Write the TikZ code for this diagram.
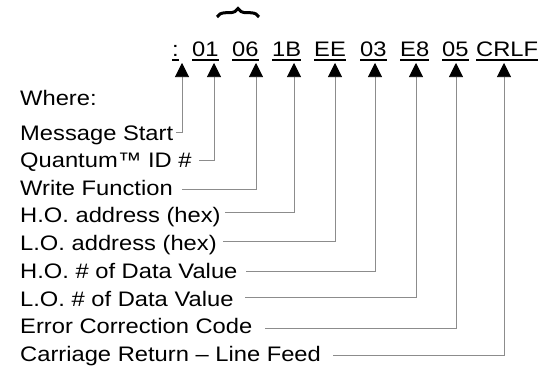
\documentclass[tikz,border=0pt]{standalone}
\usepackage{fontspec}
\setmainfont{Liberation Sans}[FakeStretch=1.13]
\usetikzlibrary{arrows.meta,decorations.pathreplacing}
\tikzset{
  lab/.style={anchor=base west, inner sep=0pt, font=\fontsize{21}{25}\selectfont},
  tok/.style={anchor=base west, inner sep=0pt, font=\fontsize{21}{25}\selectfont},
  uline/.style={line width=1.2pt},
  conn/.style={draw=black!45, line width=0.6pt,
    -{Triangle[width=14pt,length=14pt,color=black,fill=black]}},
  bracestyle/.style={decorate, decoration={brace, amplitude=8.5pt}, line width=3pt}
}
\begin{document}
\begin{tikzpicture}[x=1pt,y=-1pt]
\useasboundingbox (0,0) rectangle (538,369);
% tokens
\node[tok] (k1) at (172,56.7) {:};
\node[tok] (k2) at (192,56.7) {01};
\node[tok] (k3) at (232,56.7) {06};
\node[tok] (k4) at (272,56.7) {1B};
\node[tok] (k5) at (314,56.7) {EE};
\node[tok] (k6) at (360,56.7) {03};
\node[tok] (k7) at (400,56.7) {E8};
\node[tok] (k8) at (442,56.7) {05};
\node[tok] (k9) at (476,56.7) {CRLF};
\foreach \k in {1,...,9}{
  \draw[uline] ([yshift=-3.3pt]k\k.base west) -- ([yshift=-3.3pt]k\k.base east);
}
% brace
\coordinate (b1) at (217,17);
\coordinate (b2) at (259,17);
\draw[bracestyle] (b1) -- (b2);
% labels
\node[lab] (w)  at (20,105.7) {Where:};
\node[lab] (l1) at (20,140.5) {Message Start};
\node[lab] (l2) at (20,167) {Quantum™ ID \#};
\node[lab] (l3) at (20,195) {Write Function};
\node[lab] (l4) at (20,222) {H.O. address (hex)};
\node[lab] (l5) at (20,250) {L.O. address (hex)};
\node[lab] (l6) at (20,278) {H.O. \# of Data Value};
\node[lab] (l7) at (20,306.5) {L.O. \# of Data Value};
\node[lab] (l8) at (20,333.5) {Error Correction Code};
\node[lab] (l9) at (20,361) {Carriage Return -- Line Feed};
% connector start points
\coordinate (s1) at (176,132);
\coordinate (s2) at (199,160);
\coordinate (s3) at (182,189);
\coordinate (s4) at (225,212);
\coordinate (s5) at (223,241);
\coordinate (s6) at (246,271);
\coordinate (s7) at (245,297);
\coordinate (s8) at (265,328);
\coordinate (s9) at (333,355);
% arrow tips
\coordinate (t1) at (182,63);
\coordinate (t2) at (214,63);
\coordinate (t3) at (256,63);
\coordinate (t4) at (294,63);
\coordinate (t5) at (335,63);
\coordinate (t6) at (375,63);
\coordinate (t7) at (416,63);
\coordinate (t8) at (456,63);
\coordinate (t9) at (504,63);
\foreach \i in {1,...,9}{
  \draw[conn] (s\i) -| (t\i);
}
\end{tikzpicture}
\end{document}
